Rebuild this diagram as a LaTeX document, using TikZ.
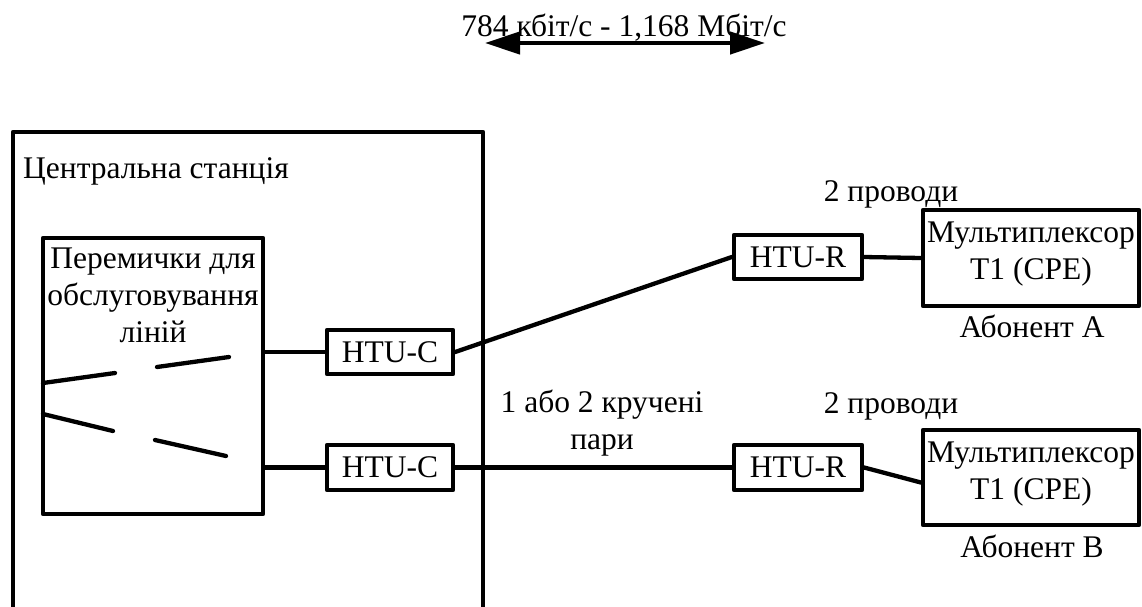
\documentclass[tikz,border=0pt]{standalone}
\usepackage{fontspec}
\setmainfont{Liberation Serif}
\usetikzlibrary{arrows.meta,calc}
\tikzset{
  lw/.style={line width=4.3pt},
  box/.style={draw, lw, line join=round, inner sep=0pt, fill=white},
  txt/.style={inner sep=0pt, font=\fontsize{31.5pt}{37pt}\selectfont},
  wire/.style={lw, line cap=round},
}
\begin{document}
\begin{tikzpicture}[x=1pt,y=-1pt]
\useasboundingbox (0,0) rectangle (1142,606);
% title and arrow
\node[txt, anchor=base] (rate) at (624,36) {784 кбіт/с - 1,168 Мбіт/с};
\coordinate (arrL) at (485,43);
\coordinate (arrR) at (765,43);
\draw[line width=4.5pt, {Triangle[length=35pt,width=22pt]}-{Triangle[length=35pt,width=22pt]}] (arrL) -- (arrR);
% central station
\draw[lw, line join=round] (13,612) -- (13,132) -- (483,132) -- (483,612);
\node[txt, anchor=base west] (cs) at (23,178) {Центральна станція};
% jumpers
\node[box, minimum width=220pt, minimum height=276pt] (jump) at (153,376) {};
\node[txt, align=center] (jumptxt) at (153,295) {Перемички для\\обслуговування\\ліній};
\coordinate (s1a) at (43,383);  \coordinate (s1b) at (115,373);
\coordinate (s2a) at (157,367); \coordinate (s2b) at (229,357);
\coordinate (s3a) at (43,414);  \coordinate (s3b) at (113,431);
\coordinate (s4a) at (155,440); \coordinate (s4b) at (226,456);
\draw[wire] (s1a) -- (s1b);
\draw[wire] (s2a) -- (s2b);
\draw[wire] (s3a) -- (s3b);
\draw[wire] (s4a) -- (s4b);
% HTU units
\node[box, txt, draw, minimum width=126pt, minimum height=44pt] (htuc1) at (390,352) {HTU-C};
\node[box, txt, draw, minimum width=126pt, minimum height=45pt] (htuc2) at (390,467.5) {HTU-C};
\node[box, txt, draw, minimum width=128pt, minimum height=44pt] (htur1) at (798,257) {HTU-R};
\node[box, txt, draw, minimum width=128pt, minimum height=45pt] (htur2) at (798,467.5) {HTU-R};
% multiplexers
\node[box, minimum width=216pt, minimum height=96pt] (muxA) at (1031,258) {};
\node[txt, align=center] (muxAt) at (1031,254.5) {Мультиплексор\\T1 (CPE)};
\node[box, minimum width=216pt, minimum height=95pt] (muxB) at (1031,477.5) {};
\node[txt, align=center] (muxBt) at (1031,474) {Мультиплексор\\T1 (CPE)};
% labels
\node[txt, anchor=base] (wA) at (891,201) {2 проводи};
\node[txt, anchor=base] (wB) at (891,413) {2 проводи};
\node[txt, anchor=base] (abA) at (1032,337) {Абонент A};
\node[txt, anchor=base] (abB) at (1032,557) {Абонент B};
\node[txt, align=center] (tp) at (602,423) {1 або 2 кручені\\пари};
% connectors
\draw[wire] (htuc1.west -| jump.east) -- (htuc1.west);
\draw[wire] (htuc2.west -| jump.east) -- (htuc2.west);
\draw[wire] (htuc1.east) -- (htur1.west);
\draw[wire] (htuc2.east) -- (htur2.west);
\draw[wire] (htur1.east) -- (muxA.west);
\draw[wire] (htur2.east) -- ([yshift=-5pt]muxB.west);
\end{tikzpicture}
\end{document}
